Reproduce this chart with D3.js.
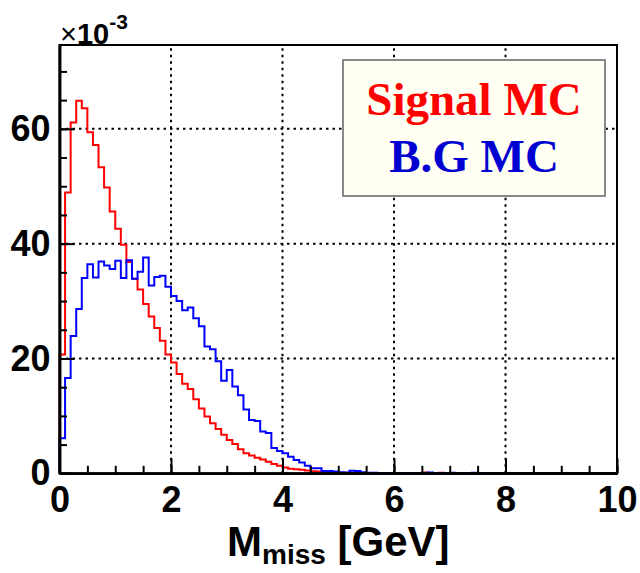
<!DOCTYPE html>
<html>
<head>
<meta charset="utf-8">
<script src="https://cdn.jsdelivr.net/npm/d3@7"></script>
<style>
  html, body { margin: 0; padding: 0; background: #fff; }
  svg { display: block; }
  .lbl { font-family: "Liberation Sans", Arial, sans-serif; font-weight: bold; fill: #000; }
</style>
</head>
<body>
<svg id="chart" width="640" height="573"></svg>
<script>
// Missing-mass histograms, 100 bins of 0.1 GeV, values in units of 1e-3

// --- Data ---
const xRange = [0, 10];
const yRange = [0, 74.6];
const binWidth = 0.1;

const signalMC = [
  20.7, 48.9, 61.1, 64.9, 63.6, 59.4, 57.2, 53.3, 49.8, 45.6,
  42.6, 39.8, 36.8, 33.9, 32.0, 29.5, 27.3, 25.3, 23.1, 20.7,
  19.3, 17.3, 15.6, 14.7, 12.9, 11.3, 9.9, 8.7, 7.7, 6.7,
  5.8, 5.1, 4.2, 3.5, 3.1, 2.7, 2.4, 2.0, 1.6, 1.3,
  1.0, 0.8, 0.7, 0.6, 0.5, 0.35, 0.3, 0.2, 0.15, 0.1,
  0.1, 0.08, 0.1, 0.05, 0.05, 0.03, 0.03, 0.02, 0.02, 0.02,
  0.01, 0.02, 0.01, 0, 0.02, 0.15, 0.05, 0, 0.1, 0.05,
  0, 0, 0, 0, 0, 0, 0, 0, 0, 0,
  0, 0, 0, 0, 0, 0, 0, 0, 0, 0,
  0, 0, 0, 0, 0, 0, 0, 0, 0, 0
];

const bgMC = [
  6.1, 16.6, 23.9, 28.6, 34.0, 36.4, 34.1, 36.9, 36.2, 35.6,
  37.0, 34.0, 37.1, 33.9, 35.1, 37.6, 32.7, 34.2, 34.4, 32.5,
  30.9, 30.0, 28.4, 28.9, 27.0, 25.6, 22.1, 21.6, 19.5, 16.1,
  18.0, 15.1, 13.6, 11.1, 9.3, 9.1, 7.3, 7.0, 4.4, 3.9,
  3.5, 2.9, 2.3, 1.9, 1.3, 0.9, 0.9, 0.4, 0.4, 0.3,
  0.2, 0.15, 0.45, 0.4, 0.2, 0.1, 0.1, 0.05, 0.05, 0.05,
  0.05, 0, 0.05, 0, 0.05, 0, 0.15, 0.05, 0, 0.05,
  0.1, 0, 0, 0.05, 0.1, 0.05, 0, 0, 0, 0,
  0, 0, 0, 0, 0, 0, 0, 0, 0, 0,
  0, 0, 0, 0, 0, 0, 0, 0, 0, 0
];

const xMajor = [0, 2, 4, 6, 8, 10];
const xMinor = d3.range(0, 10.01, 0.5);
const yMajor = [0, 20, 40, 60];
const yMinor = d3.range(0, 71, 5);
const legendItems = ["Signal MC", "B.G MC"];

// --- Layout ---
const svg = d3.select("#chart");
const frame = { left: 59.5, right: 617, top: 45, bottom: 473.3 };

const x = d3.scaleLinear().domain(xRange).range([frame.left, frame.right]);
const y = d3.scaleLinear().domain(yRange).range([frame.bottom, frame.top]);

// grid
const grid = svg.append("g").attr("stroke", "#000").attr("stroke-width", 2)
  .attr("stroke-dasharray", "2.5,4");
grid.selectAll(".gx").data(xMajor.slice(1, -1)).enter().append("line")
  .attr("x1", d => x(d)).attr("x2", d => x(d))
  .attr("y1", frame.bottom).attr("y2", frame.top);
grid.selectAll(".gy").data(yMajor.slice(1)).enter().append("line")
  .attr("x1", frame.left).attr("x2", frame.right)
  .attr("y1", d => y(d)).attr("y2", d => y(d));

// histograms as step outlines
function stepPoints(vals) {
  const pts = [[xRange[0], 0]];
  vals.forEach((v, i) => {
    pts.push([xRange[0] + i * binWidth, v]);
    pts.push([xRange[0] + (i + 1) * binWidth, v]);
  });
  pts.push([xRange[1], 0]);
  return pts;
}
const line = d3.line().x(d => x(d[0])).y(d => y(d[1]));

svg.append("path").datum(stepPoints(signalMC))
  .attr("d", line).attr("fill", "none")
  .attr("stroke", "#ff0000").attr("stroke-width", 2);
svg.append("path").datum(stepPoints(bgMC))
  .attr("d", line).attr("fill", "none")
  .attr("stroke", "#0000ff").attr("stroke-width", 2);

// frame
svg.append("rect")
  .attr("x", frame.left).attr("y", frame.top)
  .attr("width", frame.right - frame.left).attr("height", frame.bottom - frame.top)
  .attr("fill", "none").attr("stroke", "#000").attr("stroke-width", 2);

// axes (ticks point inward)
function styleAxis(g) {
  g.selectAll("line").attr("stroke", "#000").attr("stroke-width", 2);
  g.select(".domain").attr("stroke", "#000").attr("stroke-width", 2.5);
}
svg.append("g").attr("transform", `translate(0,${frame.bottom})`)
  .call(d3.axisBottom(x).tickValues(xMinor).tickSize(-7.5).tickSizeOuter(0).tickFormat(""))
  .call(styleAxis);
svg.append("g").attr("transform", `translate(0,${frame.bottom})`)
  .call(d3.axisBottom(x).tickValues(xMajor).tickSize(-15).tickSizeOuter(0).tickPadding(13))
  .call(styleAxis)
  .selectAll("text").attr("class", "lbl").attr("font-size", 36).attr("fill", "#000");

svg.append("g").attr("transform", `translate(${frame.left},0)`)
  .call(d3.axisLeft(y).tickValues(yMinor).tickSize(-7.5).tickSizeOuter(0).tickFormat(""))
  .call(styleAxis);
svg.append("g").attr("transform", `translate(${frame.left},0)`)
  .call(d3.axisLeft(y).tickValues(yMajor).tickSize(-15).tickSizeOuter(0).tickPadding(9))
  .call(styleAxis)
  .selectAll("text").attr("class", "lbl").attr("font-size", 36).attr("fill", "#000");

// exponent label
const expo = svg.append("text").attr("class", "lbl").attr("x", 60).attr("y", 44).attr("font-size", 29);
expo.append("tspan").attr("font-weight", "normal").text("\u00d7");
expo.append("tspan").text("10");
expo.append("tspan").attr("font-size", 21).attr("dy", -15).text("-3");

// x-axis title
const title = svg.append("text").attr("class", "lbl")
  .attr("x", (frame.left + frame.right) / 2).attr("y", 556)
  .attr("text-anchor", "middle").attr("font-size", 42);
title.append("tspan").text("M");
title.append("tspan").attr("font-size", 28).attr("dy", 8).text("miss");
title.append("tspan").attr("dy", -8).text(" [GeV]");

// legend
const leg = { x: 343, y: 60, w: 262, h: 136 };
svg.append("rect").attr("x", leg.x).attr("y", leg.y).attr("width", leg.w).attr("height", leg.h)
  .attr("fill", "#fffff4").attr("stroke", "#888").attr("stroke-width", 2);
const legColors = ["#ff0000", "#0000d0"];
svg.selectAll(".legtext").data(legendItems).enter().append("text")
  .attr("x", leg.x + leg.w / 2)
  .attr("y", (d, i) => 115 + i * 57)
  .attr("text-anchor", "middle")
  .attr("font-family", "'Liberation Serif', 'Times New Roman', serif")
  .attr("font-weight", "bold").attr("font-size", 47)
  .attr("fill", (d, i) => legColors[i])
  .text(d => d);
</script>
</body>
</html>
